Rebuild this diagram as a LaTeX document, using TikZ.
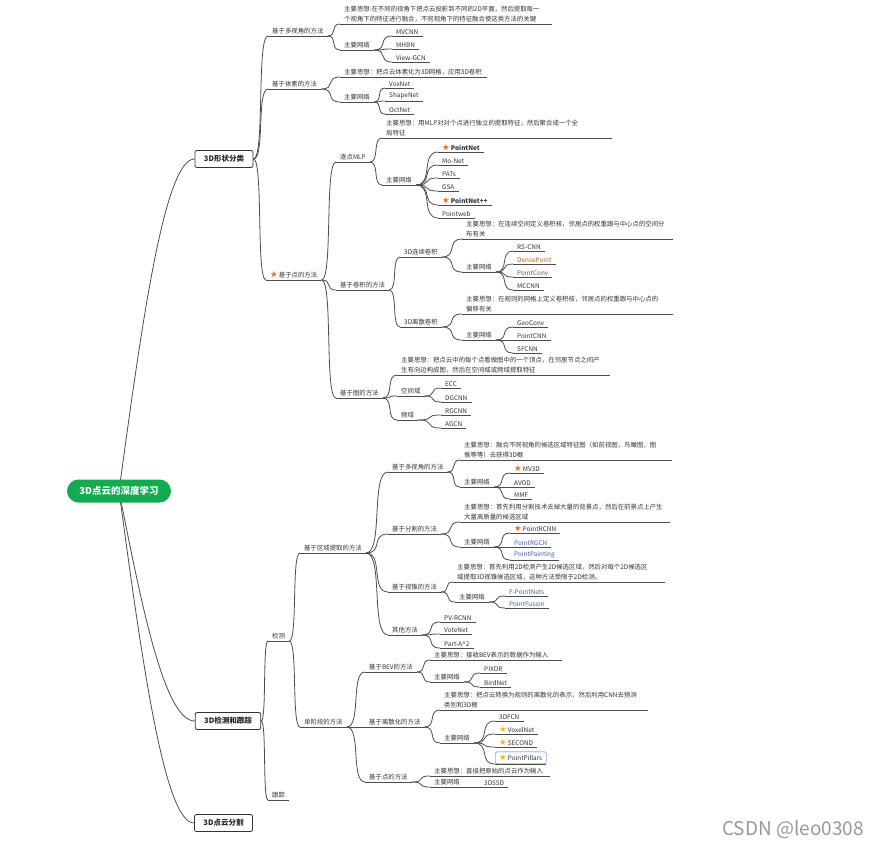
\documentclass[tikz,border=0pt]{standalone}
\usepackage{fontspec}
\setmainfont{Noto Sans CJK SC}
\newfontfamily\symfont{DejaVu Sans}
\usepackage{xcolor}
\usepackage{tikz}
\usetikzlibrary{calc,backgrounds}

\definecolor{lc}{HTML}{4D4D4D}
\definecolor{tc}{HTML}{333333}
\definecolor{staro}{HTML}{F26B1D}
\definecolor{stary}{HTML}{F5B50A}
\definecolor{pickblue}{HTML}{3B6FD8}
\definecolor{rootgreen}{HTML}{14AA50}
\definecolor{netbrown}{HTML}{B0621E}
\definecolor{netblue}{HTML}{4062A8}
\newcommand{\tpfont}{\fontsize{6.4}{10}\selectfont}
\newcommand{\ostar}{{\symfont\fontsize{8.5}{8}\selectfont\color{staro}★}\,}
\newcommand{\ystar}{{\symfont\fontsize{8.5}{8}\selectfont\color{stary}★}\,}

\begin{document}
\begin{tikzpicture}[
  x=1pt, y=-1pt,
  ul/.style={draw=lc, line width=0.8pt},
  tp/.style={anchor=south west, inner xsep=4pt, inner ysep=1.6pt, font=\tpfont, text=tc,
             append after command={(\tikzlastnode.south west) edge[ul] (\tikzlastnode.south east)}},
  idea/.style={tp, text width=#1, align=left},
  pick/.style={tp, draw=pickblue, rounded corners=1.5pt, minimum height=12pt},
  mainbox/.style={draw=black!80, fill=white, rounded corners=2pt, line width=0.8pt, inner xsep=9pt,
                  minimum height=17pt, font=\bfseries\fontsize{7.5}{9}\selectfont, text=black!85},
  rootnode/.style={fill=rootgreen, text=white, rounded corners=11.5pt, minimum width=104pt,
                   minimum height=23pt, font=\bfseries\fontsize{9.5}{11}\selectfont},
  link/.style={draw=lc, line width=0.8pt,
               to path={let \p1=(\tikztostart), \p2=(\tikztotarget) in
                 .. controls ({\x1+0.8*(\x2-\x1)},\y1) and ({\x1+0.2*(\x2-\x1)},\y2) .. (\tikztotarget)}},
  rootlink/.style={draw=lc, line width=0.8pt,
               to path={let \p1=(\tikztostart), \p2=(\tikztotarget) in
                 .. controls ({\x1+0.3*(\x2-\x1)},{\y1+0.5*(\y2-\y1)}) and ({\x1+0.6*(\x2-\x1)},\y2) .. (\tikztotarget)}}
]
\useasboundingbox (0,0) rectangle (882,847);

% ---- root and main topics ----
\node[rootnode] (root) at (119,491) {3D点云的深度学习};
\node[mainbox] (shape) at (224,159) {3D形状分类};
\node[mainbox] (det) at (228,721) {3D检测和跟踪};
\node[mainbox] (seg3d) at (223.5,823) {3D点云分割};

% ---- shape classification: multi-view ----
\node[tp] (mv) at (268,36) {基于多视角的方法};
\node[idea=204] (mvI) at (340,24) {主要思想:在不同的视角下把点云投影到不同的2D平面，然后提取每一\\个视角下的特征进行融合，不同视角下的特征融合使这类方法的关键};
\node[tp] (mvN) at (340,50) {主要网络};
\node[tp] (mvcnn) at (392,36) {MVCNN};
\node[tp] (mhbn) at (392,49) {MHBN};
\node[tp] (vgcn) at (392,62) {View-GCN};

% ---- shape classification: voxel ----
\node[tp] (vox) at (268,89) {基于体素的方法};
\node[idea=139] (voxI) at (340,77) {主要思想：把点云体素化为3D网格，应用3D卷积};
\node[tp] (voxN) at (340,102) {主要网络};
\node[tp] (voxnet) at (385,88) {VoxNet};
\node[tp] (shapenet) at (385,101) {ShapeNet};
\node[tp] (octnet) at (385,114) {OctNet};

% ---- shape classification: point based ----
\node[tp] (pt) at (266,280) {\ostar 基于点的方法};
\node[tp] (mlp) at (336,162) {逐点MLP};
\node[idea=222] (mlpI) at (382,138) {主要思想：用MLP对对个点进行独立的提取特征，然后聚合成一个全\\局特征};
\node[tp] (mlpN) at (382,185) {主要网络};
\node[tp, font=\tpfont\bfseries] (pointnet) at (438,152) {\ostar PointNet};
\node[tp] (monet) at (438,165) {Mo-Net};
\node[tp] (pats) at (438,178) {PATs};
\node[tp] (gsa) at (438,191) {GSA};
\node[tp, font=\tpfont\bfseries] (pointnetpp) at (438,205) {\ostar PointNet++};
\node[tp] (pointweb) at (438,218) {Pointweb};

\node[tp] (conv) at (336,290) {基于卷积的方法};
\node[tp] (cc) at (400,257) {3D连续卷积};
\node[idea=203] (ccI) at (462,239) {主要思想：在连续空间定义卷积核，邻居点的权重跟与中心点的空间分\\布有关};
\node[tp] (ccN) at (462,272) {主要网络};
\node[tp] (rscnn) at (513,251) {RS-CNN};
\node[tp, text=netbrown] (densepoint) at (513,264) {DensePoint};
\node[tp, text=netblue] (pointconv) at (513,277) {PointConv};
\node[tp] (mccnn) at (513,290) {MCCNN};
\node[tp] (dc) at (400,327) {3D离散卷积};
\node[idea=203] (dcI) at (462,314) {主要思想：在规则的网格上定义卷积核，邻居点的权重跟与中心点的\\偏移有关};
\node[tp] (dcN) at (462,340) {主要网络};
\node[tp] (geoconv) at (513,327) {GeoConv};
\node[tp] (pointcnn) at (513,340) {PointCNN};
\node[tp] (sfcnn) at (513,353) {SFCNN};

\node[tp] (graph) at (336,398) {基于图的方法};
\node[idea=205] (grI) at (397,375) {主要思想：把点云中的每个点看做图中的一个顶点，在邻居节点之间产\\生有向边构成图，然后在空间域或频域提取特征};
\node[tp] (spat) at (397,396) {空间域};
\node[tp] (ecc) at (441,388) {ECC};
\node[tp] (dgcnn) at (441,402) {DGCNN};
\node[tp] (spec) at (397,420) {频域};
\node[tp] (rgcnn) at (441,415) {RGCNN};
\node[tp] (agcn) at (441,428) {AGCN};

% ---- detection: region proposal ----
\node[tp] (detect) at (268,641) {检测};
\node[tp] (region) at (300,553) {基于区域提取的方法};
\node[tp] (rmv) at (388,472) {基于多视角的方法};
\node[idea=204] (rmvI) at (460,460) {主要思想：融合不同视角的候选区域特征图（如前视图，鸟瞰图，图\\像等等）去获得3D框};
\node[tp] (rmvN) at (460,487) {主要网络};
\node[tp] (mv3d) at (510,473) {\ostar MV3D};
\node[tp] (avod) at (510,487) {AVOD};
\node[tp] (mmf) at (510,499) {MMF};
\node[tp] (seg) at (388,534) {基于分割的方法};
\node[idea=202] (segI) at (460,522) {主要思想：首先利用分割技术去掉大量的背景点，然后在前景点上产生\\大量高质量的候选区域};
\node[tp] (segN) at (460,547) {主要网络};
\node[tp] (prcnn) at (510,533) {\ostar PointRCNN};
\node[tp, text=netblue] (prgcn) at (510,547) {PointRGCN};
\node[tp, text=netblue] (ppaint) at (510,560) {PointPainting};
\node[tp] (frus) at (388,592) {基于视锥的方法};
\node[idea=204] (frI) at (453,582) {主要思想：首先利用2D检测产生2D候选区域，然后对每个2D候选区\\域提取3D视锥候选区域，这种方法受限于2D检测。};
\node[tp] (frN) at (455,602) {主要网络};
\node[tp, text=netblue] (fpn) at (505,596) {F-PointNets};
\node[tp, text=netblue] (pfus) at (505,608) {PointFusion};
\node[tp] (other) at (388,635) {其他方法};
\node[tp] (pvrcnn) at (440,622) {PV-RCNN};
\node[tp] (votenet) at (440,634) {VoteNet};
\node[tp] (parta) at (440,648) {Part-A\textasciicircum{}2};

% ---- detection: single stage ----
\node[tp] (single) at (300,727) {单阶段的方法};
\node[tp] (bev) at (365,672) {基于BEV的方法};
\node[idea=124] (bevI) at (430,660) {主要思想：接收BEV表示的数据作为输入};
\node[tp] (bevN) at (430,682) {主要网络};
\node[tp] (pixor) at (480,673) {PIXOR};
\node[tp] (birdnet) at (480,687) {BirdNet};
\node[tp] (disc) at (365,727) {基于离散化的方法};
\node[idea=200] (dsI) at (440,710) {主要思想：把点云转换为规则的离散化的表示，然后利用CNN去预测\\类别和3D框};
\node[tp] (dsN) at (440,743) {主要网络};
\node[tp] (dfcn) at (495,721) {3DFCN};
\node[tp] (voxelnet) at (495,734) {\ystar VoxelNet};
\node[tp] (second) at (495,747) {\ystar SECOND};
\node[pick] (pillars) at (495,764) {\ystar PointPillars};
\node[tp] (ptb) at (365,782) {基于点的方法};
\node[idea=112] (ptI) at (430,776) {主要思想：直接把原始的点云作为输入};
\node[tp] (ptN) at (430,787) {主要网络};
\node[tp] (dssd) at (480,787) {3DSSD};
\node[tp] (track) at (268,800) {跟踪};

\node[text=black!40, font=\fontsize{19}{21}\selectfont] (mark) at (793,830) {CSDN @leo0308};

% ---- connectors ----
\begin{scope}[on background layer]
\fill[white] (0,0) rectangle (882,847);
\path (root.center) edge[rootlink] (shape.west) edge[rootlink] (det.west) edge[rootlink] (seg3d.west);
\path (shape.east) edge[link] (mv.south west) edge[link] (vox.south west) edge[link] (pt.south west);
\path (mv.south east) edge[link] (mvI.south west) edge[link] (mvN.south west);
\path (mvN.south east) edge[link] (mvcnn.south west) edge[link] (mhbn.south west) edge[link] (vgcn.south west);
\path (vox.south east) edge[link] (voxI.south west) edge[link] (voxN.south west);
\path (voxN.south east) edge[link] (voxnet.south west) edge[link] (shapenet.south west) edge[link] (octnet.south west);
\path (pt.south east) edge[link] (mlp.south west) edge[link] (conv.south west) edge[link] (graph.south west);
\path (mlp.south east) edge[link] (mlpI.south west) edge[link] (mlpN.south west);
\path (mlpN.south east) edge[link] (pointnet.south west) edge[link] (monet.south west) edge[link] (pats.south west)
      edge[link] (gsa.south west) edge[link] (pointnetpp.south west) edge[link] (pointweb.south west);
\path (conv.south east) edge[link] (cc.south west) edge[link] (dc.south west);
\path (cc.south east) edge[link] (ccI.south west) edge[link] (ccN.south west);
\path (ccN.south east) edge[link] (rscnn.south west) edge[link] (densepoint.south west)
      edge[link] (pointconv.south west) edge[link] (mccnn.south west);
\path (dc.south east) edge[link] (dcI.south west) edge[link] (dcN.south west);
\path (dcN.south east) edge[link] (geoconv.south west) edge[link] (pointcnn.south west) edge[link] (sfcnn.south west);
\path (graph.south east) edge[link] (grI.south west) edge[link] (spat.south west) edge[link] (spec.south west);
\path (spat.south east) edge[link] (ecc.south west) edge[link] (dgcnn.south west);
\path (spec.south east) edge[link] (rgcnn.south west) edge[link] (agcn.south west);

\path (det.east) edge[link] (detect.south west) edge[link] (track.south west);
\path (detect.south east) edge[link] (region.south west) edge[link] (single.south west);
\path (region.south east) edge[link] (rmv.south west) edge[link] (seg.south west)
      edge[link] (frus.south west) edge[link] (other.south west);
\path (rmv.south east) edge[link] (rmvI.south west) edge[link] (rmvN.south west);
\path (rmvN.south east) edge[link] (mv3d.south west) edge[link] (avod.south west) edge[link] (mmf.south west);
\path (seg.south east) edge[link] (segI.south west) edge[link] (segN.south west);
\path (segN.south east) edge[link] (prcnn.south west) edge[link] (prgcn.south west) edge[link] (ppaint.south west);
\path (frus.south east) edge[link] (frI.south west) edge[link] (frN.south west);
\path (frN.south east) edge[link] (fpn.south west) edge[link] (pfus.south west);
\path (other.south east) edge[link] (pvrcnn.south west) edge[link] (votenet.south west) edge[link] (parta.south west);
\path (single.south east) edge[link] (bev.south west) edge[link] (disc.south west) edge[link] (ptb.south west);
\path (bev.south east) edge[link] (bevI.south west) edge[link] (bevN.south west);
\path (bevN.south east) edge[link] (pixor.south west) edge[link] (birdnet.south west);
\path (disc.south east) edge[link] (dsI.south west) edge[link] (dsN.south west);
\path (dsN.south east) edge[link] (dfcn.south west) edge[link] (voxelnet.south west)
      edge[link] (second.south west) edge[link] (pillars.south west);
\path (ptb.south east) edge[link] (ptI.south west) edge[link] (ptN.south west);
\path (ptN.south east) edge[link] (dssd.south west);
\end{scope}
\end{tikzpicture}
\end{document}
